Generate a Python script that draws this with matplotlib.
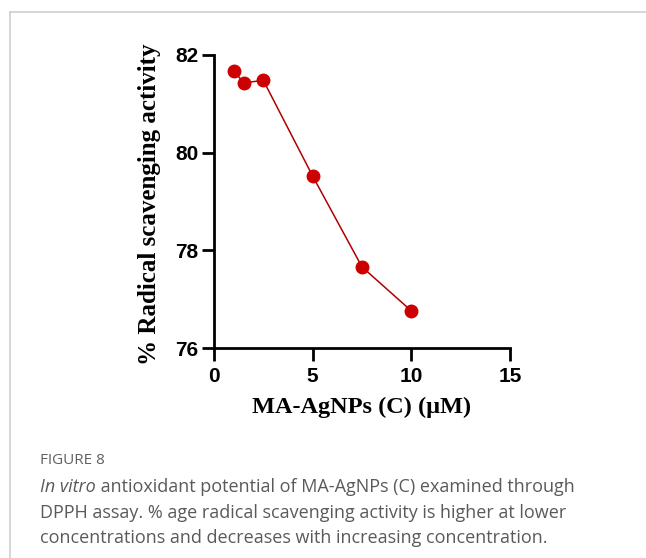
import matplotlib
matplotlib.use("Agg")
from matplotlib import pyplot as plt
from matplotlib.lines import Line2D

conc = [1, 1.5, 2.5, 5, 7.5, 10]
activity = [81.68, 81.43, 81.48, 79.52, 77.66, 76.76]
xticks = [0, 5, 10, 15]
yticks = [76, 78, 80, 82]

fig = plt.figure(figsize=(6.46, 5.58), dpi=100)

# frame lines of the figure panel
fig.add_artist(Line2D([9.5 / 646, 9.5 / 646], [0, 1 - 11.5 / 558], color="#d0d0d0", lw=1.2))
fig.add_artist(Line2D([9.5 / 646, 1], [1 - 11.5 / 558, 1 - 11.5 / 558], color="#d0d0d0", lw=1.2))

ax = fig.add_axes([214 / 646, 1 - 348 / 558, 296 / 646, 293 / 558])
ax.plot(conc, activity, color="#b00000", lw=1.1, marker="o", markersize=9,
        markerfacecolor="#cc0000", markeredgecolor="#cc0000")
ax.set_xlim(0, 15)
ax.set_ylim(76, 82)
ax.set_xticks(xticks)
ax.set_yticks(yticks)
ax.spines["top"].set_visible(False)
ax.spines["right"].set_visible(False)
for s in ["left", "bottom"]:
    ax.spines[s].set_linewidth(2)
ax.tick_params(width=2, length=9, direction="out")
ax.tick_params(axis="y", pad=2)
ax.tick_params(axis="x", pad=5)
for lab in ax.get_xticklabels() + ax.get_yticklabels():
    lab.set_fontfamily("Liberation Sans")
    lab.set_fontweight("bold")
    lab.set_fontsize(15)
ax.set_ylabel("% Radical scavenging activity", fontfamily="Liberation Serif",
              fontweight="bold", fontsize=18)
ax.yaxis.set_label_coords(-0.18, 0.49)
ax.set_xlabel("MA-AgNPs (C) (μM)", fontfamily="Liberation Serif",
              fontweight="bold", fontsize=17.5)
ax.xaxis.set_label_coords(0.5, -0.168)

fig.text(40 / 646, 1 - 461 / 558, "FIGURE 8", fontfamily="Open Sans", fontsize=11,
         color="#606060", va="center")

cap_first_it = "In vitro"
cap = [" antioxidant potential of MA-AgNPs (C) examined through",
       "DPPH assay. % age radical scavenging activity is higher at lower",
       "concentrations and decreases with increasing concentration."]
cap_style = dict(fontfamily="Open Sans", fontsize=13, color="#5a5a5a", va="center")
y0 = 1 - 487 / 558
t_it = fig.text(40 / 646, y0, cap_first_it, style="italic", **cap_style)
fig.canvas.draw()
bb = t_it.get_window_extent(fig.canvas.get_renderer())
fig.text(bb.x1 / fig.bbox.width, y0, cap[0], **cap_style)
for i, line in enumerate(cap[1:], start=1):
    fig.text(40 / 646, 1 - (487 + 25.5 * i) / 558, line, **cap_style)

fig.savefig("out.png", dpi=100)
